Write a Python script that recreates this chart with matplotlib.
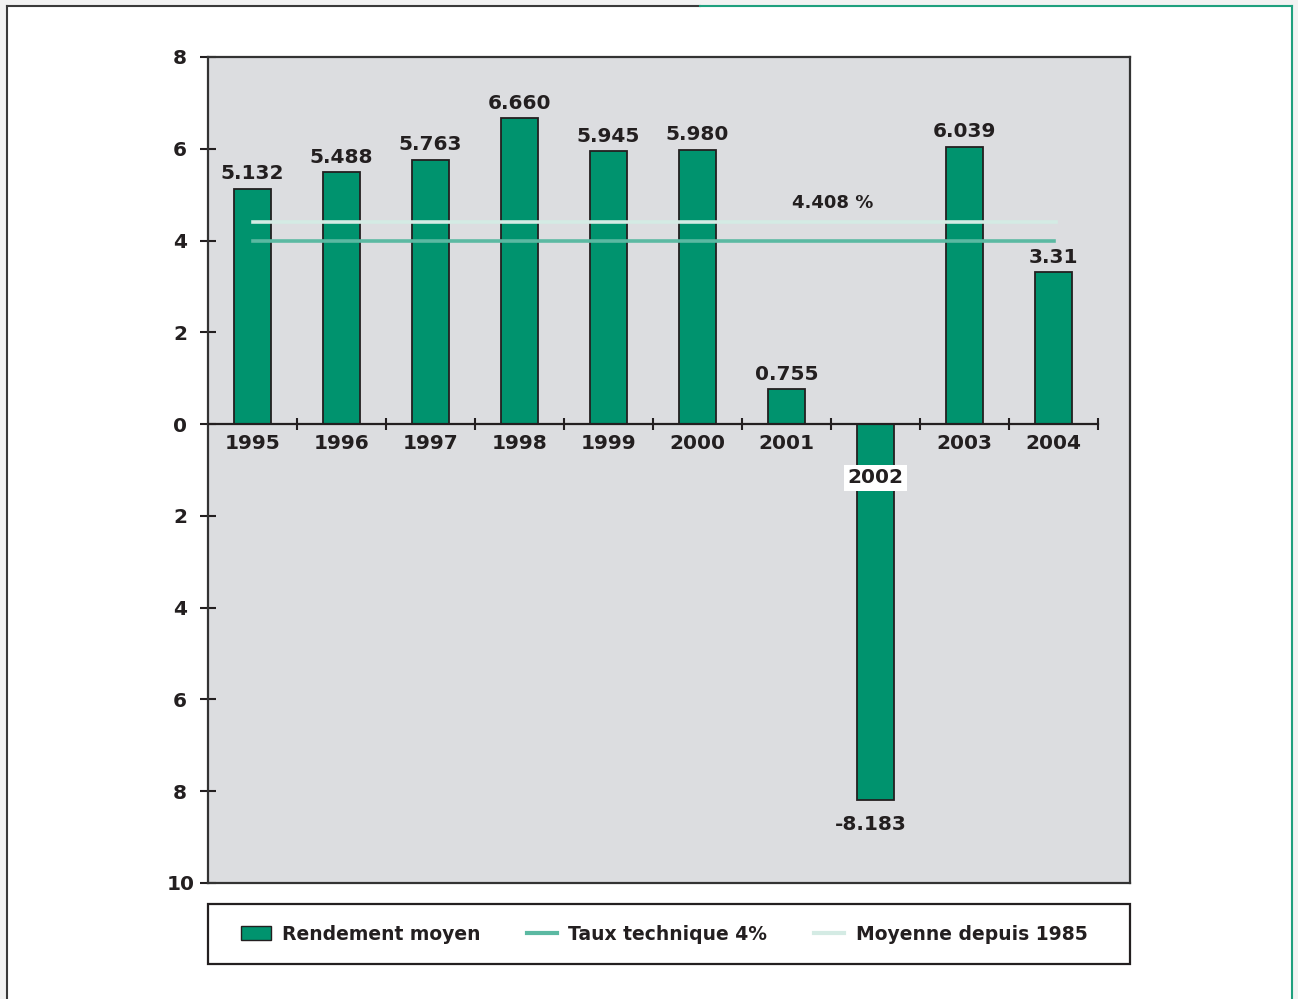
import matplotlib.pyplot as plt
from matplotlib.patches import Rectangle, Patch
from matplotlib.lines import Line2D

# =========================================================
# DATA
# =========================================================
years = ["1995", "1996", "1997", "1998", "1999", "2000", "2001", "2002", "2003", "2004"]
value_labels = ["5.132", "5.488", "5.763", "6.660", "5.945", "5.980", "0.755", "-8.183", "6.039", "3.31"]
values = [float(v) for v in value_labels]
taux_technique = 4.0
moyenne_1985 = 4.408
y_ticks = [-10, -8, -6, -4, -2, 0, 2, 4, 6, 8]

GREEN = "#00936e"
TAUX_COLOR = "#5bb9a2"
MOY_COLOR = "#d4ebe4"
DARK = "#231f20"
FONT = dict(fontweight="bold", color=DARK, family="DejaVu Sans")
FS = 14.5

# =========================================================
# FIGURE
# =========================================================
fig = plt.figure(figsize=(12.98, 9.99), dpi=100, facecolor="#f2f2f2")
W, H = 1298, 999

# page frame
fig.add_artist(Rectangle((7 / W, -0.01), (1292 - 7) / W, (999 - 6) / H + 0.01,
                         transform=fig.transFigure, facecolor="white",
                         edgecolor="none", zorder=-2))
fig.add_artist(Line2D([7 / W, 7 / W], [0, 1 - 6 / H], color="#3a3a3a", lw=1.5, transform=fig.transFigure))
fig.add_artist(Line2D([7 / W, 700 / W], [1 - 6 / H, 1 - 6 / H], color="#3a3a3a", lw=1.5, transform=fig.transFigure))
fig.add_artist(Line2D([700 / W, 1292 / W], [1 - 6 / H, 1 - 6 / H], color="#1fa07e", lw=1.5, transform=fig.transFigure))
fig.add_artist(Line2D([1292 / W, 1292 / W], [0, 1 - 6 / H], color="#1fa07e", lw=1.5, transform=fig.transFigure))

ax = fig.add_axes([208 / W, 1 - 883 / H, (1130 - 208) / W, (883 - 57) / H])
ax.set_facecolor("#dcdde0")
for s in ax.spines.values():
    s.set_color("#333333")
    s.set_linewidth(1.6)

x = list(range(len(years)))
ax.bar(x, values, width=0.41, color=GREEN, edgecolor=DARK, linewidth=1.3, zorder=3)

# reference lines
ax.plot([0, len(years) - 1], [taux_technique, taux_technique], color=TAUX_COLOR, lw=2.6, zorder=4)
ax.plot([0, len(years) - 0.97], [moyenne_1985, moyenne_1985], color=MOY_COLOR, lw=2.6, zorder=4)
ax.text(6.52, moyenne_1985 + 0.42, f"{moyenne_1985:.3f} %", ha="center", va="center", fontsize=13, **FONT)

# zero axis with category separators
ax.plot([-0.5, len(years) - 0.5], [0, 0], color=DARK, lw=1.6, zorder=5)
ax.plot([i + 0.5 for i in x], [0] * len(x), ls="", marker="|", ms=9, mew=1.5, color=DARK, zorder=5)

# value and year labels
for xi, v, lab, yr in zip(x, values, value_labels, years):
    if v >= 0:
        ax.annotate(lab, (xi, v), xytext=(0, 4), textcoords="offset points",
                    ha="center", va="bottom", fontsize=FS, **FONT)
        ax.text(xi, -0.43, yr, ha="center", va="center", fontsize=FS, zorder=6, **FONT)
    else:
        ax.annotate(lab, (xi - 0.05, v), xytext=(0, -11), textcoords="offset points",
                    ha="center", va="top", fontsize=FS, **FONT)
        ax.text(xi, -1.17, yr, ha="center", va="center", fontsize=FS, zorder=6,
                bbox=dict(facecolor="white", edgecolor="none", pad=2.5), **FONT)

ax.set_xlim(-0.5, -0.5 + 922 / 89)
ax.set_ylim(-10, 8)
ax.set_yticks(y_ticks)
ax.set_yticklabels([str(abs(t)) for t in y_ticks])
ax.tick_params(axis="y", direction="inout", length=12, width=1.5, color=DARK, pad=14,
               labelsize=FS, labelcolor=DARK)
for t in ax.get_yticklabels():
    t.set_fontweight("bold")
    t.set_horizontalalignment("center")
ax.set_xticks([])

# =========================================================
# LEGEND
# =========================================================
fig.add_artist(Rectangle((208 / W, 1 - 964 / H), (1130 - 208) / W, (964 - 904) / H,
                         transform=fig.transFigure, facecolor="white",
                         edgecolor=DARK, linewidth=1.6, zorder=1))
handles = [
    Patch(facecolor=GREEN, edgecolor=DARK, linewidth=1),
    Line2D([], [], color=TAUX_COLOR, lw=3),
    Line2D([], [], color=MOY_COLOR, lw=3),
]
labels = ["Rendement moyen", "Taux technique 4%", "Moyenne depuis 1985"]
leg = fig.legend(handles, labels, loc="center", ncol=3, mode="expand",
                 bbox_to_anchor=(220 / W, 1 - 964 / H, (1108 - 220) / W, (964 - 904) / H),
                 frameon=False, borderaxespad=0,
                 prop=dict(weight="bold", size=13.5), handlelength=1.6, handletextpad=0.6,
                 borderpad=1.1)
leg.set_zorder(2)
for t in leg.get_texts():
    t.set_color(DARK)

fig.savefig("out.png", dpi=100, facecolor=fig.get_facecolor())
